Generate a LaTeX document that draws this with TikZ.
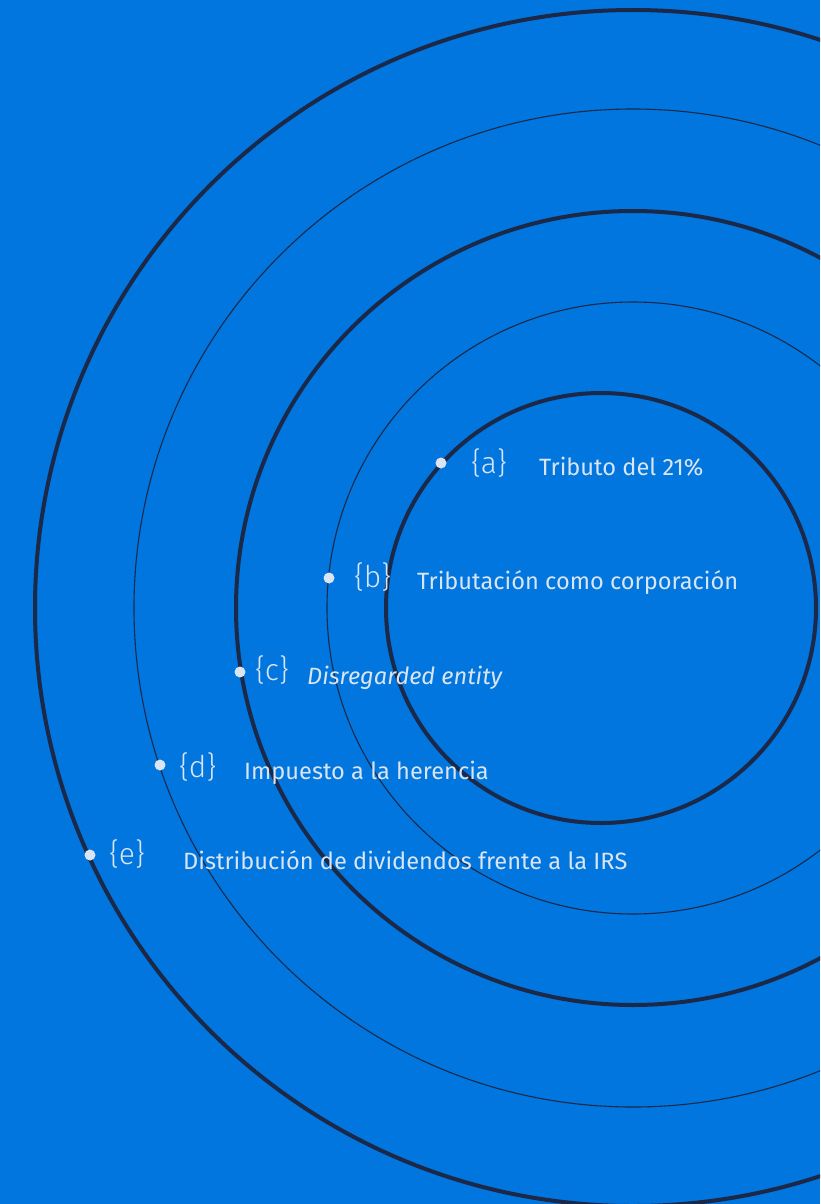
\documentclass[tikz,border=0pt]{standalone}
\usepackage{fontspec}
\setmainfont{Fira Sans}
\newfontfamily\bracefont{Fira Sans Light}
\definecolor{bg}{RGB}{0,118,222}
\definecolor{ring}{RGB}{27,40,72}
\definecolor{txt}{RGB}{218,228,242}
\tikzset{
  thickring/.style={draw=ring, line width=4pt},
  thinring/.style={draw=ring, line width=1.1pt},
  dotmark/.style={circle, fill=txt, inner sep=0pt, minimum size=11pt},
  brace/.style={anchor=west, inner sep=0pt, text=txt, font=\bracefont\fontsize{30}{30}\selectfont},
  label/.style={anchor=west, inner sep=0pt, text=txt, font=\fontsize{23.6}{24}\selectfont},
}
\begin{document}
\begin{tikzpicture}[x=1pt,y=-1pt]
\fill[bg] (0,0) rectangle (820,1204);
\useasboundingbox (0,0) rectangle (820,1204);
\begin{scope}
\clip (0,0) rectangle (820,1204);
\draw[thickring] (633,608) circle[radius=598];
\draw[thinring] (633,608) circle[radius=499];
\draw[thickring] (633,608) circle[radius=397];
\draw[thinring] (633,608) circle[radius=306];
\draw[thickring] (601,608) circle[radius=215];
\end{scope}
\node[dotmark] (da) at (441,463) {};
\node[dotmark] (db) at (329,578) {};
\node[dotmark] (dc) at (240,672) {};
\node[dotmark] (dd) at (160,765) {};
\node[dotmark] (de) at (90,855) {};
\node[brace] (ba) at (471,463) {\{a\}};
\node[brace] (bb) at (354,577) {\{b\}};
\node[brace] (bc) at (255,670) {\{c\}};
\node[brace] (bd) at (179,767) {\{d\}};
\node[brace] (be) at (109,854) {\{e\}};
\node[label] (ta) at (539,467) {Tributo del 21\%};
\node[label] (tb) at (417,583) {Tributación como corporación};
\node[label] (tc) at (307,678) {\itshape Disregarded entity};
\node[label] (td) at (244,773) {Impuesto a la herencia};
\node[label] (te) at (183,860) {Distribución de dividendos frente a la IRS};
\end{tikzpicture}
\end{document}
